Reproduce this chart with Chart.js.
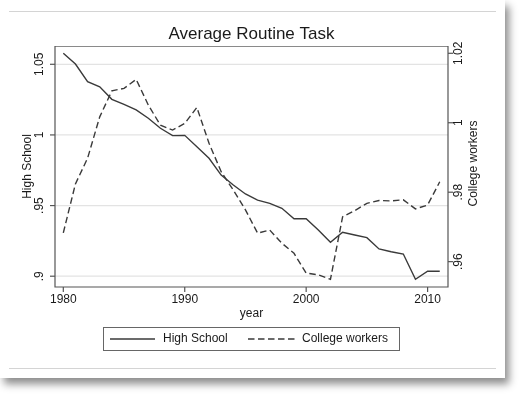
<!DOCTYPE html>
<html><head><meta charset="utf-8">
<script src="https://cdn.jsdelivr.net/npm/chart.js@4"></script>
<style>
html,body{margin:0;padding:0;background:#fff;width:520px;height:395px;overflow:hidden}
#card{position:absolute;left:0;top:0;width:505px;height:378px;background:#fff;box-shadow:4px 6px 8px rgba(0,0,0,0.45)}
.rule{position:absolute;left:9px;width:487px;height:1px;background:#d4d4d4}
canvas{position:absolute;left:0;top:0}
</style></head><body>
<div id="card"></div>
<div class="rule" style="top:11px"></div>
<div class="rule" style="top:368px"></div>
<canvas id="c" width="520" height="395"></canvas>
<script>
const years = [1980,1981,1982,1983,1984,1985,1986,1987,1988,1989,1990,1991,1992,1993,1994,1995,1996,1997,1998,1999,2000,2001,2002,2003,2004,2005,2006,2007,2008,2009,2010,2011];
const highSchool = [1.0578,1.0502,1.0377,1.0341,1.0252,1.0217,1.0177,1.0118,1.0047,0.9995,0.9997,0.9917,0.9835,0.9716,0.9646,0.9582,0.9539,0.9516,0.9481,0.9407,0.9407,0.9327,0.9240,0.9311,0.9292,0.9273,0.9193,0.9173,0.9157,0.8978,0.9035,0.9035];
const collegeWorkers = [0.9683,0.9824,0.9898,1.0017,1.0092,1.0099,1.0125,1.0051,0.9993,0.9979,0.9998,1.0044,0.9941,0.9859,0.9806,0.9749,0.9682,0.9691,0.9653,0.9624,0.9567,0.9562,0.9549,0.9729,0.9747,0.9768,0.9776,0.9775,0.9778,0.9752,0.9763,0.9830];
const xTicks = [1980,1990,2000,2010];
const leftTicks = [0.9,0.95,1,1.05];
const leftTickLabels = ['.9','.95','1','1.05'];
const rightTicks = [0.96,0.98,1,1.02];
const rightTickLabels = ['.96','.98','1','1.02'];
const titleText = 'Average Routine Task';
const xTitle = 'year';
const leftTitle = 'High School';
const rightTitle = 'College workers';
const seriesNames = ['High School','College workers'];

const FONT = '"Liberation Sans", Arial, Helvetica, sans-serif';
const LINE = '#3a3a3a';
const TXT = '#1a1a1a';

function rotText(ctx, text, x, y) {
  ctx.save();
  ctx.translate(x, y);
  ctx.rotate(-Math.PI / 2);
  ctx.textAlign = 'center';
  ctx.textBaseline = 'middle';
  ctx.fillText(text, 0, 0);
  ctx.restore();
}

const decor = {
  id: 'decor',
  beforeDatasetsDraw(chart) {
    const ctx = chart.ctx, a = chart.chartArea, y = chart.scales.y;
    ctx.save();
    ctx.strokeStyle = '#e3e3e3';
    ctx.lineWidth = 1.3;
    leftTicks.forEach(v => {
      const py = y.getPixelForValue(v);
      ctx.beginPath(); ctx.moveTo(a.left, py); ctx.lineTo(a.right, py); ctx.stroke();
    });
    ctx.restore();
  },
  afterDatasetsDraw(chart) {
    const ctx = chart.ctx, a = chart.chartArea;
    const xs = chart.scales.x, ys = chart.scales.y, y2 = chart.scales.y2;
    ctx.save();
    ctx.strokeStyle = '#8a8a8a'; ctx.lineWidth = 1;
    ctx.beginPath(); ctx.moveTo(a.left, a.top + 0.5); ctx.lineTo(a.right, a.top + 0.5); ctx.stroke();
    ctx.strokeStyle = '#555'; ctx.lineWidth = 1.2;
    ctx.beginPath();
    ctx.moveTo(a.left, a.top); ctx.lineTo(a.left, a.bottom); ctx.lineTo(a.right, a.bottom); ctx.lineTo(a.right, a.top);
    ctx.stroke();
    ctx.fillStyle = TXT;
    ctx.font = '12px ' + FONT;
    leftTicks.forEach((v, i) => {
      const py = ys.getPixelForValue(v);
      ctx.beginPath(); ctx.moveTo(a.left, py); ctx.lineTo(a.left - 5, py); ctx.stroke();
      rotText(ctx, leftTickLabels[i], 40, py);
    });
    rightTicks.forEach((v, i) => {
      const py = y2.getPixelForValue(v);
      ctx.beginPath(); ctx.moveTo(a.right, py); ctx.lineTo(a.right + 5, py); ctx.stroke();
      rotText(ctx, rightTickLabels[i], 459, py);
    });
    ctx.textAlign = 'center'; ctx.textBaseline = 'middle';
    xTicks.forEach(v => {
      const px = xs.getPixelForValue(v);
      ctx.beginPath(); ctx.moveTo(px, a.bottom); ctx.lineTo(px, a.bottom + 5); ctx.stroke();
      ctx.fillText(String(v), px, 299.5);
    });
    const cx = (a.left + a.right) / 2, cy = (a.top + a.bottom) / 2;
    ctx.fillText(xTitle, cx, 314);
    rotText(ctx, leftTitle, 28, cy);
    rotText(ctx, rightTitle, 474, cy - 3);
    ctx.font = '17px ' + FONT;
    ctx.textBaseline = 'alphabetic';
    ctx.fillText(titleText, 251.5, 39);
    ctx.strokeStyle = '#666'; ctx.lineWidth = 1;
    ctx.strokeRect(103.5, 327.5, 296, 23);
    ctx.strokeStyle = LINE; ctx.lineWidth = 1.3;
    ctx.beginPath(); ctx.moveTo(110, 339); ctx.lineTo(155, 339); ctx.stroke();
    ctx.setLineDash([6.5, 3.5]);
    ctx.beginPath(); ctx.moveTo(248, 339); ctx.lineTo(295, 339); ctx.stroke();
    ctx.setLineDash([]);
    ctx.font = '12px ' + FONT;
    ctx.textAlign = 'left'; ctx.textBaseline = 'middle';
    ctx.fillText(seriesNames[0], 163, 339);
    ctx.fillText(seriesNames[1], 302, 339);
    ctx.restore();
  }
};

new Chart(document.getElementById('c'), {
  type: 'line',
  data: {
    datasets: [
      {
        label: seriesNames[0],
        data: years.map((yr, i) => ({x: yr, y: highSchool[i]})),
        borderColor: LINE, borderWidth: 1.4, pointRadius: 0, tension: 0, yAxisID: 'y', fill: false
      },
      {
        label: seriesNames[1],
        data: years.map((yr, i) => ({x: yr, y: collegeWorkers[i]})),
        borderColor: LINE, borderWidth: 1.4, borderDash: [6.5, 3.5], pointRadius: 0, tension: 0, yAxisID: 'y2', fill: false
      }
    ]
  },
  options: {
    responsive: false,
    animation: false,
    devicePixelRatio: 1,
    layout: { padding: { left: 55, top: 46, right: 72, bottom: 108 } },
    plugins: { legend: { display: false }, title: { display: false }, tooltip: { enabled: false } },
    scales: {
      x: { type: 'linear', display: false, min: 1979.316, max: 2011.68 },
      y: { type: 'linear', display: false, min: 0.89236, max: 1.06295 },
      y2: { type: 'linear', display: false, position: 'right', min: 0.9527, max: 1.0221 }
    }
  },
  plugins: [decor]
});
</script>
</body></html>
